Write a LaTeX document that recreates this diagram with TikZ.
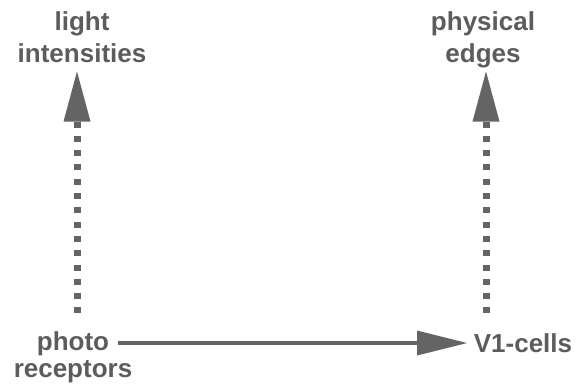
\documentclass[tikz,border=0pt]{standalone}
\usepackage{fontspec}
\setmainfont{Liberation Sans}
\usetikzlibrary{arrows.meta}
\definecolor{txtgray}{RGB}{92,92,92}
\definecolor{arrgray}{RGB}{100,100,100}
\tikzset{
  lbl/.style={font=\bfseries\fontsize{26}{32}\selectfont, text=txtgray, inner sep=0pt, align=center},
  lblb/.style={font=\bfseries\fontsize{26}{27}\selectfont, text=txtgray, inner sep=0pt, align=center},
  vdots/.style={draw=arrgray, line width=7pt, dash pattern=on 6pt off 8.3pt,
     {Triangle[length=50pt,width=27pt,line width=0pt]}-},
  harrow/.style={draw=arrgray, line width=4.5pt,
     -{Triangle[length=50pt,width=25pt,line width=0pt]}}
}
\begin{document}
\begin{tikzpicture}[x=1pt,y=-1pt]
\useasboundingbox (0,0) rectangle (577,386);
\node[lbl, anchor=north] (li) at (82,11.5) {light\\intensities};
\node[lbl, anchor=north] (pe) at (483,11.5) {physical\\edges};
\node[lblb, anchor=north] (pr) at (73,331.5) {photo\\receptors};
\node[lbl, anchor=base] (v1) at (523,352) {V1-cells};
\coordinate (liTip) at (77,71.5);
\coordinate (liBot) at (77,315);
\coordinate (peTip) at (486,71.5);
\coordinate (peBot) at (486,315);
\coordinate (hStart) at (118,343);
\coordinate (hTip) at (467,343);
\draw[vdots] (liTip) -- (liBot);
\draw[vdots] (peTip) -- (peBot);
\draw[harrow] (hStart) -- (hTip);
\end{tikzpicture}
\end{document}
